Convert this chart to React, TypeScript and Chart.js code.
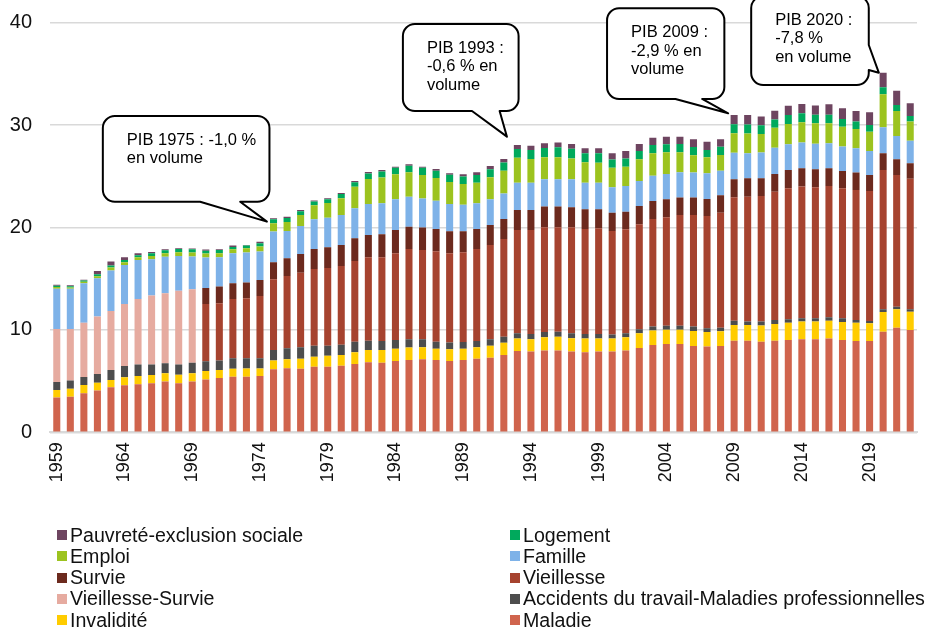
import React, { useEffect, useRef } from "react";
import { Chart, registerables } from "chart.js";

Chart.register(...registerables);

const FONT = "'Liberation Sans', Arial, Helvetica, sans-serif";

const years = [
  1959, 1960, 1961, 1962, 1963, 1964, 1965, 1966, 1967, 1968, 1969, 1970, 1971, 1972, 1973, 1974,
  1975, 1976, 1977, 1978, 1979, 1980, 1981, 1982, 1983, 1984, 1985, 1986, 1987, 1988, 1989, 1990,
  1991, 1992, 1993, 1994, 1995, 1996, 1997, 1998, 1999, 2000, 2001, 2002, 2003, 2004, 2005, 2006,
  2007, 2008, 2009, 2010, 2011, 2012, 2013, 2014, 2015, 2016, 2017, 2018, 2019, 2020, 2021, 2022,
];

const maladie = [
  3.39, 3.48, 3.81, 4.07, 4.39, 4.59, 4.69, 4.79, 4.95, 4.79, 4.95, 5.15, 5.3, 5.43, 5.43, 5.5,
  6.15, 6.25, 6.21, 6.41, 6.41, 6.51, 6.67, 6.84, 6.8, 6.97, 7.06, 7.13, 7.06, 6.97, 7.06, 7.19,
  7.29, 7.55, 7.94, 7.88, 7.98, 7.98, 7.88, 7.81, 7.88, 7.88, 7.98, 8.24, 8.53, 8.62, 8.62, 8.43,
  8.37, 8.43, 8.95, 8.95, 8.85, 8.95, 9.02, 9.08, 9.08, 9.15, 9.02, 8.92, 8.92, 9.83, 10.22, 9.99,
];

const invalidite = [
  0.74, 0.78, 0.81, 0.78, 0.72, 0.78, 0.81, 0.81, 0.81, 0.84, 0.81, 0.84, 0.78, 0.78, 0.81, 0.74,
  0.85, 0.88, 0.98, 0.97, 1.07, 1.04, 1.14, 1.2, 1.24, 1.2, 1.21, 1.17, 1.11, 1.13, 1.11, 1.11,
  1.17, 1.2, 1.21, 1.2, 1.3, 1.36, 1.3, 1.34, 1.27, 1.27, 1.3, 1.43, 1.4, 1.4, 1.4, 1.47,
  1.43, 1.43, 1.53, 1.53, 1.57, 1.63, 1.69, 1.73, 1.73, 1.75, 1.75, 1.79, 1.72, 1.92, 1.79, 1.79,
];

const accidents = [
  0.79, 0.79, 0.78, 0.85, 0.98, 1.11, 1.11, 1.01, 0.98, 0.98, 1.04, 0.96, 0.92, 1.01, 0.98, 0.98,
  1.04, 1.07, 1.11, 1.08, 0.98, 1.01, 1.04, 0.91, 0.88, 0.84, 0.81, 0.78, 0.68, 0.66, 0.65, 0.62,
  0.62, 0.59, 0.52, 0.52, 0.52, 0.49, 0.49, 0.46, 0.45, 0.39, 0.39, 0.39, 0.39, 0.39, 0.39, 0.42,
  0.36, 0.34, 0.42, 0.33, 0.39, 0.39, 0.33, 0.33, 0.33, 0.33, 0.36, 0.26, 0.23, 0.26, 0.26, 0.23,
];

const vieillesseSurvie = [
  5.17, 5.04, 5.31, 5.6, 5.76, 6.05, 6.41, 6.74, 6.83, 7.22, 7.17, null, null, null, null, null,
  null, null, null, null, null, null, null, null, null, null, null, null, null, null, null, null,
  null, null, null, null, null, null, null, null, null, null, null, null, null, null, null, null,
  null, null, null, null, null, null, null, null, null, null, null, null, null, null, null, null,
];

const vieillesse = [
  null, null, null, null, null, null, null, null, null, null, null, 5.58, 5.6, 5.8, 5.86, 6.09,
  6.9, 7.07, 7.29, 7.49, 7.59, 7.68, 7.88, 8.14, 8.17, 8.47, 8.82, 8.72, 8.82, 8.72, 8.76, 8.98,
  9.21, 9.53, 10.09, 10.16, 10.22, 10.19, 10.35, 10.25, 10.32, 10.12, 10.15, 10.25, 10.51, 10.58, 10.81, 10.9,
  10.97, 11.25, 12.05, 12.2, 12.27, 12.53, 12.79, 12.86, 12.79, 12.82, 12.7, 12.69, 12.7, 13.61, 12.86, 12.76,
];

const survie = [
  null, null, null, null, null, null, null, null, null, null, null, 1.56, 1.63, 1.53, 1.54, 1.57,
  1.66, 1.72, 1.82, 1.95, 2.01, 2.05, 2.21, 2.18, 2.24, 2.28, 2.18, 2.21, 2.18, 2.15, 2.05, 1.95,
  1.95, 1.95, 1.95, 1.95, 2.02, 2.02, 1.95, 1.92, 1.86, 1.79, 1.73, 1.79, 1.76, 1.76, 1.7, 1.7,
  1.66, 1.69, 1.76, 1.79, 1.73, 1.72, 1.79, 1.78, 1.76, 1.73, 1.69, 1.7, 1.56, 1.63, 1.53, 1.5,
];

const famille = [
  3.94, 3.94, 3.84, 3.74, 3.94, 3.81, 3.81, 3.54, 3.58, 3.39, 3.19, 2.97, 2.86, 2.93, 2.93, 2.77,
  3.0, 2.67, 2.74, 2.9, 2.9, 2.93, 2.93, 3.03, 3.03, 2.99, 2.93, 2.83, 2.76, 2.67, 2.6, 2.51,
  2.51, 2.51, 2.67, 2.67, 2.66, 2.66, 2.73, 2.6, 2.6, 2.47, 2.5, 2.44, 2.47, 2.48, 2.47, 2.44,
  2.5, 2.41, 2.6, 2.44, 2.51, 2.57, 2.5, 2.51, 2.48, 2.44, 2.38, 2.37, 2.34, 2.53, 2.28, 2.21,
];

const emploi = [
  0.15, 0.12, 0.15, 0.2, 0.3, 0.26, 0.26, 0.33, 0.33, 0.36, 0.39, 0.39, 0.39, 0.39, 0.42, 0.49,
  0.81, 0.88, 1.07, 1.37, 1.43, 1.63, 2.12, 2.43, 2.53, 2.44, 2.38, 2.28, 2.22, 2.14, 2.02, 2.02,
  2.15, 2.21, 2.44, 2.31, 2.15, 2.15, 2.05, 1.98, 1.95, 1.92, 1.89, 2.12, 2.18, 2.11, 1.95, 1.69,
  1.56, 1.52, 1.89, 1.95, 1.82, 1.95, 1.98, 1.98, 2.02, 1.95, 1.94, 1.89, 1.89, 3.23, 2.44, 1.86,
];

const logement = [
  0.12, 0.12, 0.12, 0.2, 0.2, 0.23, 0.2, 0.26, 0.29, 0.33, 0.33, 0.29, 0.32, 0.23, 0.26, 0.33,
  0.39, 0.39, 0.36, 0.36, 0.36, 0.42, 0.42, 0.55, 0.59, 0.65, 0.65, 0.72, 0.72, 0.72, 0.72, 0.75,
  0.78, 0.81, 0.85, 0.88, 0.91, 0.98, 0.94, 0.88, 0.91, 0.81, 0.81, 0.81, 0.81, 0.78, 0.81, 0.81,
  0.72, 0.81, 0.88, 0.88, 0.85, 0.81, 0.88, 0.88, 0.81, 0.83, 0.76, 0.72, 0.65, 0.68, 0.58, 0.55,
];

const pauvrete = [
  0.1, 0.08, 0.08, 0.3, 0.4, 0.26, 0.2, 0.13, 0.1, 0.07, 0.07, 0.1, 0.07, 0.13, 0.07, 0.13,
  0.1, 0.13, 0.13, 0.1, 0.1, 0.1, 0.13, 0.13, 0.13, 0.1, 0.13, 0.1, 0.16, 0.13, 0.23, 0.26,
  0.33, 0.33, 0.39, 0.42, 0.46, 0.46, 0.46, 0.49, 0.49, 0.59, 0.72, 0.68, 0.72, 0.75, 0.72, 0.75,
  0.81, 0.75, 0.91, 0.91, 0.85, 0.85, 0.91, 0.91, 0.91, 1.04, 1.04, 1.04, 1.24, 1.43, 1.4, 1.24,
];

const yTicks = [0, 10, 20, 30, 40];

// Series in stacking order (bottom to top)
const seriesNames = [
  "Maladie",
  "Invalidité",
  "Accidents du travail-Maladies professionnelles",
  "Vieillesse-Survie",
  "Vieillesse",
  "Survie",
  "Famille",
  "Emploi",
  "Logement",
  "Pauvreté-exclusion sociale",
];
const seriesValues = [
  maladie, invalidite, accidents, vieillesseSurvie, vieillesse, survie, famille, emploi, logement, pauvrete,
];
const seriesColors = [
  "#D0644D", "#FFCC00", "#4D4D4D", "#E6ABA0", "#A6432F", "#6C2A1E", "#7EB2E8", "#9CC31F", "#00A95C", "#6E4560",
];

// Callouts: box [xLeft, xRight] in category index units, [yTop, yBottom] in value units
const calloutLines = [
  ["PIB 1975 : -1,0 %", "en volume"],
  ["PIB 1993 :", "-0,6 % en", "volume"],
  ["PIB 2009 :", "-2,9 % en", "volume"],
  ["PIB 2020 :", "-7,8 %", "en volume"],
];
const calloutBoxes = [
  [3.4, 15.7, 30.89, 22.52],
  [25.55, 34.09, 39.87, 31.38],
  [40.62, 49.28, 41.41, 32.55],
  [51.26, 59.94, 42.6, 33.92],
];
const calloutSides = ["bottom", "bottom", "bottom", "right"];
// pointer base (two positions along side, in index units for bottom, value units for right)
const calloutBases = [
  [10.58, 13.54],
  [30.65, 32.69],
  [45.67, 47.64],
  [37.82, 35.38],
];
const calloutTips = [
  [15.51, 20.57],
  [33.23, 28.87],
  [49.56, 31.15],
  [60.68, 35.12],
];

const calloutPlugin = {
  id: "callouts",
  afterDatasetsDraw(chart: any) {
    const ctx = chart.ctx;
    const xs = chart.scales.x;
    const ys = chart.scales.y;
    const X = (v: number) => xs.getPixelForValue(v);
    const Y = (v: number) => ys.getPixelForValue(v);
    ctx.save();
    calloutBoxes.forEach((bx, i) => {
      const l = X(bx[0]);
      const r = X(bx[1]);
      const t = Y(bx[2]);
      const b = Y(bx[3]);
      const rad = 12;
      const side = calloutSides[i];
      const base = calloutBases[i];
      const tip = calloutTips[i];
      const tx = X(tip[0]);
      const ty = Y(tip[1]);
      ctx.beginPath();
      ctx.moveTo(l + rad, t);
      ctx.lineTo(r - rad, t);
      ctx.arcTo(r, t, r, t + rad, rad);
      if (side === "right") {
        ctx.lineTo(r, Y(base[0]));
        ctx.lineTo(tx, ty);
        ctx.lineTo(r, Y(base[1]));
      }
      ctx.lineTo(r, b - rad);
      ctx.arcTo(r, b, r - rad, b, rad);
      if (side === "bottom") {
        ctx.lineTo(X(base[1]), b);
        ctx.lineTo(tx, ty);
        ctx.lineTo(X(base[0]), b);
      }
      ctx.lineTo(l + rad, b);
      ctx.arcTo(l, b, l, b - rad, rad);
      ctx.lineTo(l, t + rad);
      ctx.arcTo(l, t, l + rad, t, rad);
      ctx.closePath();
      ctx.fillStyle = "#FFFFFF";
      ctx.fill();
      ctx.lineWidth = 2;
      ctx.strokeStyle = "#000000";
      ctx.lineJoin = "round";
      ctx.stroke();

      ctx.fillStyle = "#000000";
      ctx.font = `16.5px ${FONT}`;
      ctx.textAlign = "left";
      ctx.textBaseline = "alphabetic";
      calloutLines[i].forEach((line, j) => {
        ctx.fillText(line, l + 24, t + 29 + j * 18.3);
      });
    });
    ctx.restore();
  },
};

// Legend order (row-major, 2 columns)
const legendOrder = [9, 8, 7, 6, 5, 4, 3, 2, 1, 0];

export default function App() {
  const canvasRef = useRef<HTMLCanvasElement | null>(null);

  useEffect(() => {
    document.body.style.margin = "0";
    const canvas = canvasRef.current;
    if (!canvas) return;
    const chart = new Chart(canvas, {
      type: "bar",
      data: {
        labels: years.map(String),
        datasets: seriesNames.map((name, i) => ({
          label: name,
          data: seriesValues[i] as any,
          backgroundColor: seriesColors[i],
          borderWidth: 0,
          barPercentage: 0.52,
          categoryPercentage: 1.0,
        })),
      },
      options: {
        responsive: false,
        animation: false,
        devicePixelRatio: 1,
        layout: { padding: { left: 0, right: 13, top: 22.7, bottom: 0 } },
        plugins: {
          legend: { display: false },
          tooltip: { enabled: false },
        },
        scales: {
          x: {
            stacked: true,
            grid: { display: false, drawTicks: false },
            border: { display: true, color: "#D9D9D9", width: 2 },
            ticks: {
              autoSkip: false,
              minRotation: 90,
              maxRotation: 90,
              padding: 10,
              color: "#111111",
              font: { family: FONT, size: 18 },
              callback: (_v: any, idx: number) => (idx % 5 === 0 ? String(years[idx]) : ""),
            },
            afterFit: (scale: any) => {
              scale.height = 195.7;
              scale.paddingLeft = 0;
              scale.paddingRight = 0;
              scale.paddingTop = 0;
              scale.paddingBottom = 0;
            },
          },
          y: {
            stacked: true,
            min: yTicks[0],
            max: yTicks[yTicks.length - 1],
            afterBuildTicks: (scale: any) => {
              scale.ticks = yTicks.map((v) => ({ value: v }));
            },
            grid: { color: "#D9D9D9", lineWidth: 1.5, drawTicks: false },
            border: { display: false },
            ticks: {
              padding: 18,
              color: "#111111",
              font: { family: FONT, size: 20 },
            },
            afterFit: (scale: any) => {
              scale.width = 50;
              scale.paddingTop = 0;
              scale.paddingBottom = 0;
              scale.paddingLeft = 0;
              scale.paddingRight = 0;
            },
          },
        },
      },
      plugins: [calloutPlugin],
    });
    return () => chart.destroy();
  }, []);

  return (
    <div style={{ position: "relative", width: 930, height: 628, background: "#FFFFFF", overflow: "hidden" }}>
      <canvas ref={canvasRef} width={930} height={628} style={{ display: "block" }} />
      <div style={{ position: "absolute", left: 0, top: 0, width: 930, height: 628, pointerEvents: "none" }}>
        {legendOrder.map((si, k) => {
          const col = k % 2;
          const row = Math.floor(k / 2);
          const left = col === 0 ? 57 : 510;
          const top = 524.5 + row * 21.25;
          return (
            <div
              key={si}
              style={{
                position: "absolute",
                left,
                top,
                height: 21.25,
                display: "flex",
                alignItems: "center",
                whiteSpace: "nowrap",
                fontFamily: FONT,
                fontSize: 19.6,
                lineHeight: "21.25px",
                color: "#111111",
              }}
            >
              <span
                style={{
                  display: "inline-block",
                  width: 10,
                  height: 10,
                  background: seriesColors[si],
                  marginRight: 3,
                }}
              />
              <span>{seriesNames[si]}</span>
            </div>
          );
        })}
      </div>
    </div>
  );
}
